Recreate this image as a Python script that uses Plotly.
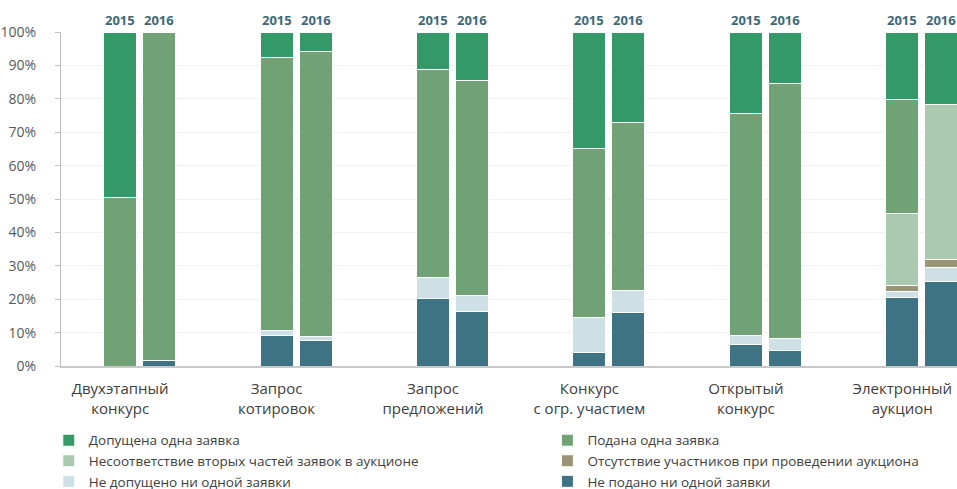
import plotly.graph_objects as go

categories = ["Двухэтапный<br>конкурс", "Запрос<br>котировок", "Запрос<br>предложений",
              "Конкурс<br>с огр. участием", "Открытый<br>конкурс", "Электронный<br>аукцион"]
years = ["2015", "2016"]

# values in % (bottom to top of stack)
ne_podano_2015 = [0, 9.1, 20.2, 3.9, 6.4, 20.4]
ne_podano_2016 = [1.7, 7.6, 16.2, 16.0, 4.5, 25.4]
ne_dopusheno_2015 = [0, 1.6, 6.4, 10.7, 2.7, 1.9]
ne_dopusheno_2016 = [0, 1.2, 5.0, 6.6, 3.7, 4.2]
otsutstvie_2015 = [0, 0, 0, 0, 0, 1.7]
otsutstvie_2016 = [0, 0, 0, 0, 0, 2.3]
nesootv_2015 = [0, 0, 0, 0, 0, 21.8]
nesootv_2016 = [0, 0, 0, 0, 0, 46.4]
podana_2015 = [50.5, 81.7, 62.3, 50.6, 66.6, 33.9]
podana_2016 = [98.3, 85.5, 64.4, 50.3, 76.5, 0]
dopushena_2015 = [49.5, 7.6, 11.1, 34.8, 24.3, 20.3]
dopushena_2016 = [0, 5.7, 14.4, 27.1, 15.3, 21.7]

# (name, 2015, 2016, colour, legend column)
series = [
    ("Не подано ни одной заявки", ne_podano_2015, ne_podano_2016, "#3D7383", "legend2"),
    ("Не допущено ни одной заявки", ne_dopusheno_2015, ne_dopusheno_2016, "#CCE0E6", "legend"),
    ("Отсутствие участников при проведении аукциона", otsutstvie_2015, otsutstvie_2016, "#9A9479", "legend2"),
    ("Несоответствие вторых частей заявок в аукционе", nesootv_2015, nesootv_2016, "#ABC9AE", "legend"),
    ("Подана одна заявка", podana_2015, podana_2016, "#71A276", "legend2"),
    ("Допущена одна заявка", dopushena_2015, dopushena_2016, "#339966", "legend"),
]

year_offset = [0.0, 0.249]
bar_w = 0.211
n = len(categories)
xs = [i + year_offset[0] for i in range(n)] + [i + year_offset[1] for i in range(n)]

fig = go.Figure()
for name, v15, v16, color, leg in series:
    fig.add_trace(go.Bar(
        x=xs, y=list(v15) + list(v16), name=name, width=bar_w, legend=leg,
        marker=dict(color=color, line=dict(color="white", width=1)),
        hovertemplate="%{y}%<extra>" + name + "</extra>",
    ))

for i in range(n):
    for k, yr in enumerate(years):
        fig.add_annotation(x=i + year_offset[k], y=100, xref="x", yref="y",
                           text="<b>" + yr + "</b>", showarrow=False,
                           yanchor="bottom", yshift=1,
                           font=dict(family="Open Sans", size=13, color="#3D6878"))

leg_common = dict(orientation="v", traceorder="reversed", xref="container", yref="container",
                  y=0.131, xanchor="left", yanchor="top", itemwidth=30,
                  bgcolor="rgba(0,0,0,0)",
                  font=dict(family="Open Sans", size=13.5, color="#404040"))

fig.update_layout(
    width=957, height=489,
    margin=dict(l=61, r=0, t=32, b=123, autoexpand=False),
    barmode="stack",
    plot_bgcolor="white", paper_bgcolor="white",
    font=dict(family="Open Sans", color="#404040"),
    xaxis=dict(range=[-0.378, 5.35], tickvals=list(range(n)), ticktext=categories,
               showgrid=False, showline=True, linecolor="#C8C8C8", linewidth=2,
               ticks="", ticklabelstandoff=8,
               tickfont=dict(family="Open Sans", size=15, color="#404040"), zeroline=False),
    yaxis=dict(range=[0, 100], dtick=10, ticksuffix="%", showgrid=True, gridcolor="#F2F2F2",
               showline=True, linecolor="#BFBFBF", linewidth=1, ticks="outside", ticklen=5,
               tickcolor="#BFBFBF", ticklabelstandoff=16,
               tickfont=dict(family="Open Sans", size=14, color="#595959"), zeroline=False),
    legend=dict(x=0.051, **leg_common),
    legend2=dict(x=0.572, **leg_common),
    showlegend=True,
)

fig.write_html("out.html", config={"displayModeBar": False},
               post_script="document.body.style.margin='0';document.body.style.overflow='hidden';")
